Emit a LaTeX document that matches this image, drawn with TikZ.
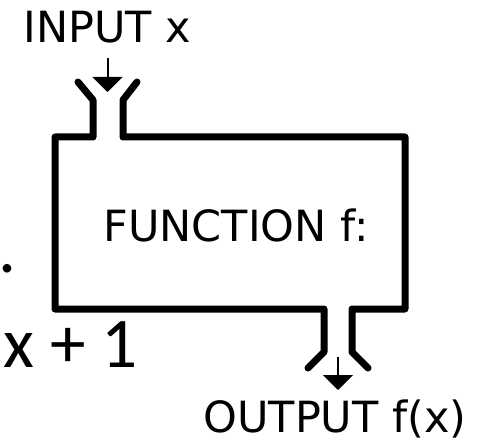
\documentclass[tikz,border=0pt]{standalone}
\usepackage{fontspec}
\setmainfont{DejaVu Sans}
\newfontfamily\calibrifont{Carlito}
\usetikzlibrary{arrows.meta}

\begin{document}
\begin{tikzpicture}[x=0.5pt,y=0.5pt,
  wall/.style={line width=3.5pt, line cap=round, line join=round},
  arr/.style={line width=1pt, -{Triangle[width=15pt,length=7.5pt]}},
  lbl/.style={font=\fontsize{21.5}{26}\selectfont, inner sep=0pt},
  big/.style={font=\calibrifont\fontsize{35.6}{42}\selectfont, inner sep=0pt, anchor=base west}]
\useasboundingbox (0,0) rectangle (477,440);
\node[lbl] (input) at (107.5,412.5) {INPUT x};
\node[lbl] (func) at (236,215) {FUNCTION f:};
\node[lbl, anchor=base] (output) at (335,8) {OUTPUT f(x)};
\node[big] (plusone) at (3,73) {x + 1};
\node[big] (dot) at (-2,168) {.};
\coordinate (intip) at (107.5,348);
\coordinate (outtop) at (338,83);
\coordinate (outtip) at (338,50);
\draw[wall] (78,358) -- (93,340) -- (93,303) -- (55,303) -- (55,131)
  -- (324,131) -- (324,88) -- (308,72);
\draw[wall] (368,72) -- (352,88) -- (352,131) -- (405,131) -- (405,303)
  -- (123,303) -- (123,340) -- (137,358);
\draw[arr, shorten <=7pt] (input.south) -- (intip);
\draw[arr] (outtop) -- (outtip);
\end{tikzpicture}
\end{document}
